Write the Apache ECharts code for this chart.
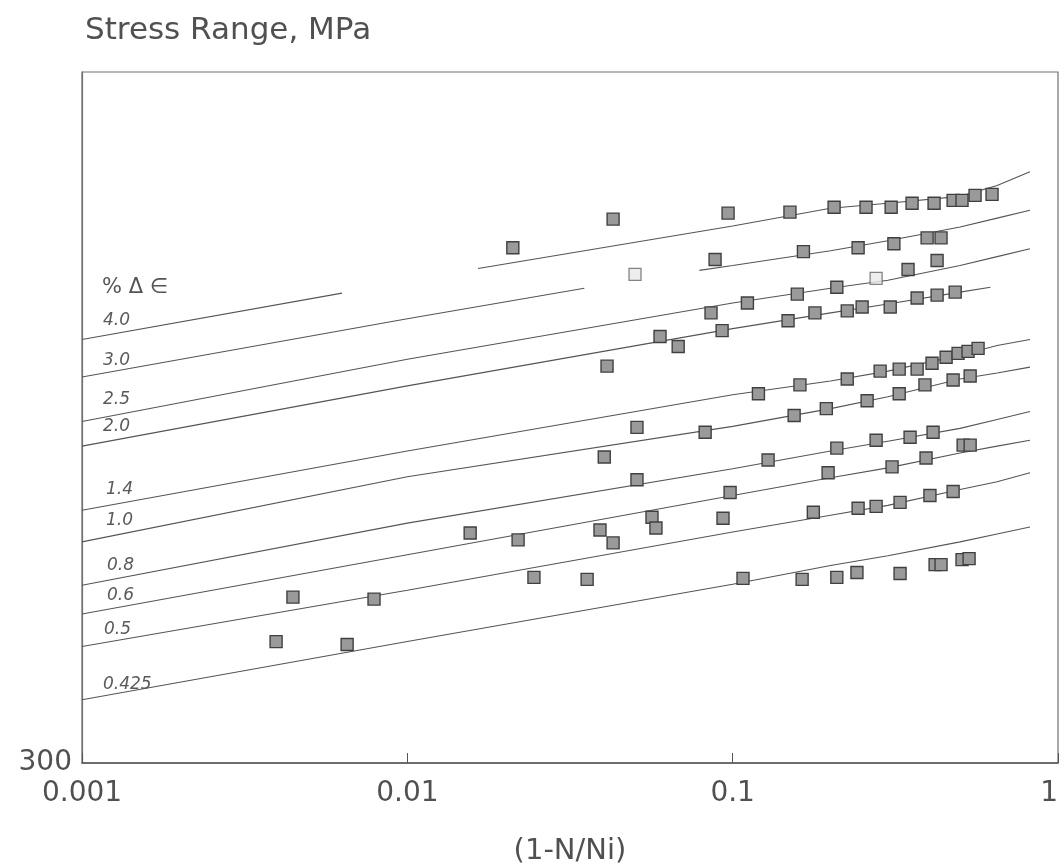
<!DOCTYPE html>
<html>
<head>
<meta charset="utf-8">
<title>Stress Range vs (1-N/Ni)</title>
<script src="https://cdn.jsdelivr.net/npm/echarts@6/dist/echarts.min.js"></script>
<style>
  html, body { margin: 0; padding: 0; background: #fff; }
  #chart { width: 1064px; height: 866px; }
</style>
</head>
<body>
<div id="chart"></div>
<script>
// x positions (1-N/Ni) where the fitted curves were read
const curveX = [0.001, 0.01, 0.1, 0.2, 0.3, 0.5, 0.65, 0.82];

// fitted curves, stress range in MPa (null = faded gap in the scan)
const curve40X = [0.001, 0.0063, 0.01, 0.0165, 0.1, 0.2, 0.3, 0.5, 0.65, 0.82];
const curve40 = [729, 776, null, 801, 844, 862, 867, 874, 885, 899];
const curve30X = [0.001, 0.01, 0.035, 0.05, 0.079, 0.1, 0.2, 0.3, 0.5, 0.65, 0.82];
const curve30 = [691, 750, 781, null, 799, 804, 819, 829, 843, 852, 860];
const curve25 = [646, 709, 766, 781, 789, 804, 813, 821];
const curve20X = [0.001, 0.01, 0.1, 0.2, 0.3, 0.5, 0.62];
const curve20 = [621, 682, 740, 756, 765, 777, 782];
const curve14 = [556, 616, 673, 687, 697, 713, 723, 729];
const curve10 = [524, 590, 641, 659, 671, 689, 695, 701];
const curve08 = [480, 543, 598, 616, 626, 639, 648, 656];
const curve06 = [451, 511, 571, 589, 599, 614, 621, 627];
const curve05 = [418, 475, 534, 551, 561, 577, 585, 594];
const curve0425 = [364, 423, 481, 500, 510, 524, 532, 539];

// test points (filled squares)
const pointX = [
  0.0211, 0.0429, 0.0968, 0.150, 0.205, 0.257, 0.307, 0.356, 0.416, 0.476, 0.507, 0.556, 0.627,
  0.0883, 0.165, 0.243, 0.313, 0.396, 0.437, 0.425, 0.346,
  0.0858, 0.111, 0.158, 0.209,
  0.0598, 0.0680, 0.0928, 0.148, 0.179, 0.225, 0.250, 0.305, 0.369, 0.425, 0.483,
  0.0411,
  0.120, 0.161, 0.225, 0.284, 0.325, 0.369, 0.410, 0.453, 0.493, 0.529, 0.568,
  0.0508, 0.0823, 0.1545, 0.194, 0.259, 0.325, 0.390, 0.476, 0.537,
  0.0403, 0.0508,
  0.1285, 0.209, 0.276, 0.351, 0.413,
  0.0982, 0.1965, 0.309, 0.393, 0.511, 0.537,
  0.0934,
  0.177, 0.243, 0.276, 0.327, 0.404, 0.476,
  0.1076, 0.1635, 0.209, 0.241, 0.327, 0.419, 0.437, 0.507, 0.533,
  0.0156, 0.0219, 0.0391, 0.0429, 0.0565, 0.0581, 0.0245, 0.0357,
  0.00445, 0.0079, 0.00395, 0.00653
];
const pointY = [
  822, 851, 857, 858, 863, 863, 863, 867, 867, 870, 870, 875, 876,
  810, 818, 822, 826, 832, 832, 809, 800,
  756, 766, 775, 782,
  732, 722, 738, 748, 756, 758, 762, 762, 771, 774, 777,
  702,
  674, 683, 689, 697, 699, 699, 705, 711, 715, 717, 720,
  640, 635, 652, 659, 667, 674, 683, 688, 692,
  610, 587,
  607, 619, 627, 630, 635,
  574, 594, 600, 609, 622, 622,
  548,
  554, 558, 560, 564, 571, 575,
  487, 486, 488, 493, 492, 501, 501, 506, 507,
  533, 526, 536, 523, 549, 538, 488, 486,
  468, 466, 423, 420
];

// open squares
const openX = [0.0501, 0.276];
const openY = [795, 791];

const xTickLabels = ["0.001", "0.01", "0.1", "1"];
const yTickLabels = ["300"];
const curveLabels = ["4.0", "3.0", "2.5", "2.0", "1.4", "1.0", "0.8", "0.6", "0.5", "0.425"];

const zip = (xs, ys) => xs.map((x, i) => [x, ys[i] === null ? "-" : ys[i]]);

const lineStyle = { color: "#555", width: 1.1 };

const curves = [
  [curve40X, curve40],
  [curve30X, curve30],
  [curveX, curve25],
  [curve20X, curve20],
  [curveX, curve14],
  [curveX, curve10],
  [curveX, curve08],
  [curveX, curve06],
  [curveX, curve05],
  [curveX, curve0425],
];

const lineSeries = curves.map(([xs, ys], i) => ({
  name: curveLabels[i],
  type: "line",
  data: zip(xs, ys),
  smooth: false,
  connectNulls: false,
  showSymbol: false,
  symbol: "none",
  lineStyle: lineStyle,
  z: 2,
  silent: true,
}));

const labelY = [322, 362, 401, 428, 491, 522, 567, 597, 631, 686];
const labelXPos = [103, 103, 103, 103, 106, 106, 107, 107, 104, 103];

const chart = echarts.init(document.getElementById("chart"));

chart.setOption({
  animation: false,
  backgroundColor: "#fff",
  title: {
    text: "Stress Range, MPa",
    left: 80,
    top: 10,
    textStyle: {
      fontFamily: "DejaVu Sans",
      fontSize: 31,
      fontWeight: "normal",
      color: "#505050",
    },
  },
  grid: {
    left: 82,
    right: 6,
    top: 72,
    bottom: 103,
    outerBoundsMode: "none",
    containLabel: false,
    show: true,
    borderColor: "#707070",
    borderWidth: 1.2,
    backgroundColor: "transparent",
  },
  xAxis: {
    type: "log",
    logBase: 10,
    min: 0.001,
    max: 1,
    name: "(1-N/Ni)",
    nameLocation: "middle",
    nameGap: 74,
    nameTextStyle: {
      fontFamily: "DejaVu Sans",
      fontSize: 29,
      color: "#505050",
    },
    axisLine: { show: true, lineStyle: { color: "#555", width: 1.5 } },
    axisTick: { show: true, inside: true, length: 10, lineStyle: { color: "#555" } },
    splitLine: { show: false },
    minorTick: { show: false },
    axisLabel: {
      margin: 17,
      fontFamily: "DejaVu Sans",
      fontSize: 28,
      color: "#505050",
      alignMaxLabel: "right",
      formatter: (v) => {
        const i = Math.round(Math.log10(v)) + 3;
        return xTickLabels[i] || "";
      },
    },
  },
  yAxis: {
    type: "value",
    min: 300,
    max: 1000,
    interval: 700,
    axisLine: { show: true, lineStyle: { color: "#707070", width: 1.2 } },
    axisTick: { show: false },
    splitLine: { show: false },
    axisLabel: {
      margin: 10,
      fontFamily: "DejaVu Sans",
      fontSize: 28,
      color: "#505050",
      formatter: (v) => (v === 300 ? yTickLabels[0] : ""),
    },
  },
  series: [
    ...lineSeries,
    {
      name: "Data",
      type: "scatter",
      data: zip(pointX, pointY),
      symbol: "rect",
      symbolSize: 12,
      itemStyle: {
        color: "#9a9a9a",
        borderColor: "#404040",
        borderWidth: 1.4,
        opacity: 1,
      },
      z: 3,
      silent: true,
    },
    {
      name: "Open",
      type: "scatter",
      data: zip(openX, openY),
      symbol: "rect",
      symbolSize: 12,
      itemStyle: {
        color: "#e8e8e8",
        borderColor: "#666",
        borderWidth: 1.3,
      },
      z: 3,
      silent: true,
    },
  ],
  graphic: [
    {
      type: "text",
      left: 102,
      top: 277,
      style: {
        text: "% \u0394 \u2208",
        fontFamily: "DejaVu Sans",
        fontSize: 21,
        fill: "#555",
      },
    },
    ...curveLabels.map((t, i) => ({
      type: "text",
      left: labelXPos[i],
      top: labelY[i] - 10,
      style: {
        text: t,
        fontFamily: "DejaVu Sans",
        fontStyle: "italic",
        fontSize: 17,
        fill: "#5a5a5a",
      },
    })),
  ],
});
</script>
</body>
</html>
